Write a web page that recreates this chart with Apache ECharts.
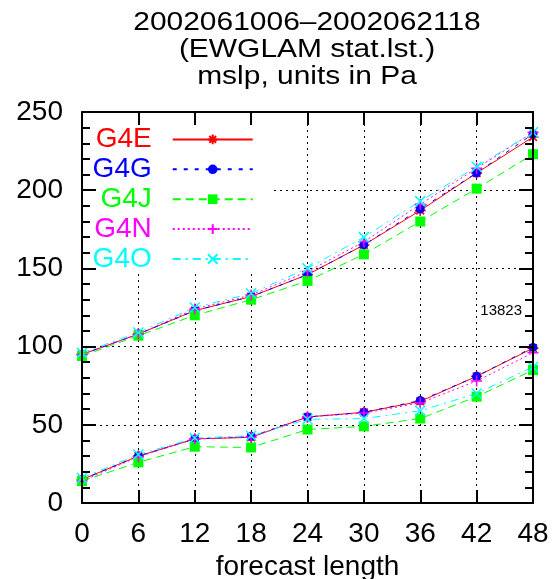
<!DOCTYPE html>
<html><head><meta charset="utf-8">
<script src="https://cdn.jsdelivr.net/npm/echarts@6/dist/echarts.min.js"></script>
<style>html,body{margin:0;padding:0;background:#fff}#c{width:557px;height:579px}</style>
</head><body><div id="c"></div>
<script>
// ---- data ----
const forecastHours = [0, 6, 12, 18, 24, 30, 36, 42, 48];
const modelNames = ['G4E', 'G4G', 'G4J', 'G4N', 'G4O'];
// upper group of curves
const upperG4E = [95, 108, 123, 132, 146, 165, 187, 211, 234];
const upperG4G = [95, 108, 123, 132, 146, 165, 188, 211, 236];
const upperG4J = [94, 107, 120, 130, 142, 159, 180, 201, 223];
const upperG4N = [95, 108, 124, 133, 148, 167, 191, 214, 237];
const upperG4O = [96, 109, 125, 134, 150, 170, 193, 215, 237];
// lower group of curves
const lowerG4E = [15, 30, 41, 42, 55, 58, 65, 81, 99];
const lowerG4G = [15, 30, 41, 42.5, 55, 58, 65.5, 81, 99.5];
const lowerG4J = [14, 26, 36, 35.5, 47, 49, 54, 68, 85];
const lowerG4N = [14, 29.5, 41, 42, 55, 57.5, 64, 78, 96];
const lowerG4O = [16, 31, 41.5, 43, 53.5, 54, 59, 70, 87];
const titleLines = ['2002061006\u20132002062118', '(EWGLAM stat.lst.)', 'mslp, units in Pa'];
const xAxisTitle = 'forecast length';
const caseCount = '13823';

// ---- styles ----
const colors = ['#ff0000', '#0000ff', '#00ff00', '#ff00ff', '#00ffff'];
const dashes = ['solid', [4, 7], [8, 5], [2, 3], [8, 5, 2, 5]];
const symbols = [
  'path://M0,10L20,10M10,0L10,20M3,3L17,17M17,3L3,17',
  'circle',
  'rect',
  'path://M0,10L20,10M10,0L10,20',
  'path://M0,0L20,20M20,0L0,20'
];
const symbolSizes = [11, 9, 10, 11, 10];
const FONT = 'Liberation Sans';

const upper = [upperG4E, upperG4G, upperG4J, upperG4N, upperG4O];
const lower = [lowerG4E, lowerG4G, lowerG4J, lowerG4N, lowerG4O];

function mkSeries(vals, i) {
  const isPath = symbols[i].indexOf('path://') === 0;
  return {
    type: 'line', name: modelNames[i], xAxisIndex: 0, yAxisIndex: 0,
    data: forecastHours.map((h, k) => [h, vals[k]]),
    symbol: symbols[i], symbolSize: symbolSizes[i], showAllSymbol: true,
    lineStyle: { color: colors[i], width: 1, type: dashes[i] },
    itemStyle: { color: colors[i], borderColor: colors[i], borderWidth: isPath ? 1.5 : 0 },
    emphasis: { disabled: true }, z: 2
  };
}
const series = [];
for (let i = 0; i < 5; i++) { series.push(mkSeries(upper[i], i)); series.push(mkSeries(lower[i], i)); }

const black = { color: '#000', width: 2 };
const labelFont = { fontFamily: FONT, fontSize: 28, color: '#000' };
const gridLine = { show: true, showMinLine: false, showMaxLine: false, lineStyle: { color: '#000', width: 1, type: [2, 4] } };
const xBase = { type: 'value', min: 0, max: 48, interval: 6 };
const yBase = { type: 'value', min: 0, max: 250, interval: 50 };

const option = {
  animation: false,
  backgroundColor: '#fff',
  grid: { left: 82, right: 24, top: 112, bottom: 76, containLabel: false, outerBoundsMode: 'none' },
  xAxis: [
    Object.assign({}, xBase, { position: 'bottom', z: 5,
      axisLine: { show: true, onZero: false, lineStyle: black },
      axisTick: { show: true, inside: true, length: 13, lineStyle: black },
      axisLabel: Object.assign({ margin: 17 }, labelFont),
      splitLine: { show: false },
      name: xAxisTitle, nameLocation: 'middle', nameGap: 50, nameTextStyle: labelFont }),
    Object.assign({}, xBase, { position: 'top', z: 5,
      axisLine: { show: true, onZero: false, lineStyle: black },
      axisTick: { show: true, inside: true, length: 13, lineStyle: black },
      axisLabel: { show: false }, splitLine: { show: false } }),
    Object.assign({}, xBase, { position: 'bottom', z: 0,
      axisLine: { show: false }, axisTick: { show: false }, axisLabel: { show: false },
      splitLine: gridLine })
  ],
  yAxis: [
    Object.assign({}, yBase, { position: 'left', z: 5,
      axisLine: { show: true, onZero: false, lineStyle: black },
      axisTick: { show: true, inside: true, length: 14, lineStyle: black },
      minorTick: { show: true, splitNumber: 5, length: 8, lineStyle: black },
      axisLabel: Object.assign({ margin: 19 }, labelFont),
      splitLine: { show: false } }),
    Object.assign({}, yBase, { position: 'right', z: 5,
      axisLine: { show: true, onZero: false, lineStyle: black },
      axisTick: { show: true, inside: true, length: 14, lineStyle: black },
      minorTick: { show: true, splitNumber: 5, length: 8, lineStyle: black },
      axisLabel: { show: false }, splitLine: { show: false } }),
    Object.assign({}, yBase, { position: 'left', z: 0,
      axisLine: { show: false }, axisTick: { show: false }, axisLabel: { show: false },
      splitLine: gridLine })
  ],
  legend: {
    orient: 'vertical', align: 'right', left: 92.6, top: 125.4, padding: 0,
    itemGap: 1.9, itemWidth: 80, itemHeight: 12, selectedMode: false,
    textStyle: { fontFamily: FONT, fontSize: 28, lineHeight: 22, padding: [0, 16, 0, 0] },
    data: modelNames.map((n, i) => ({ name: n, textStyle: { color: colors[i] } }))
  },
  graphic: [
    { type: 'rect', z: 1, shape: { x: 83, y: 113, width: 191, height: 159 }, style: { fill: '#fff' }, silent: true },
    { type: 'text', z: 10, x: 307, y: 22.5, scaleX: 1.13, style: { text: titleLines[0], fill: '#000', fontFamily: FONT, fontSize: 26.5, align: 'center', verticalAlign: 'middle' } },
    { type: 'text', z: 10, x: 307, y: 50, scaleX: 1.13, style: { text: titleLines[1], fill: '#000', fontFamily: FONT, fontSize: 26.5, align: 'center', verticalAlign: 'middle' } },
    { type: 'text', z: 10, x: 307, y: 77, scaleX: 1.13, style: { text: titleLines[2], fill: '#000', fontFamily: FONT, fontSize: 26.5, align: 'center', verticalAlign: 'middle' } },
    { type: 'text', z: 10, x: 522, y: 311, style: { text: caseCount, fill: '#000', fontFamily: FONT, fontSize: 15, align: 'right', verticalAlign: 'middle' } }
  ],
  series: series
};
const chart = echarts.init(document.getElementById('c'), null, { renderer: 'canvas' });
chart.setOption(option);
</script>
</body></html>
